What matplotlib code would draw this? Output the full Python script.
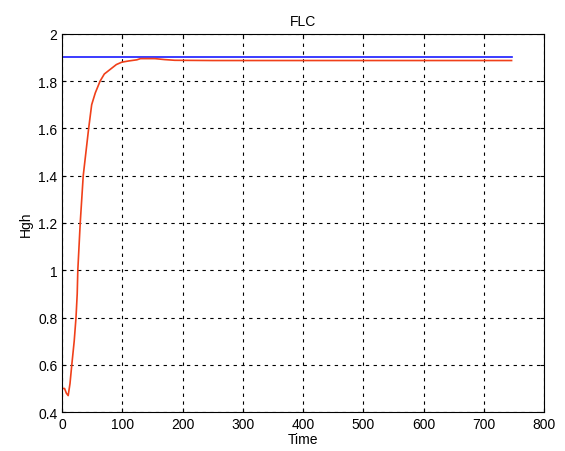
import matplotlib.pyplot as plt

plt.rcParams['font.family'] = ['Liberation Sans', 'DejaVu Sans']

# Valores
tempo = [0, 4, 7, 10, 13, 16, 20, 23, 25, 26, 30, 35, 44, 49, 55, 63, 70, 80, 90, 99,
         110, 124, 130, 154, 170, 187, 250, 400, 600, 746]
altura = [0.50, 0.50, 0.48, 0.47, 0.52, 0.60, 0.70, 0.80, 0.90, 1.00, 1.20, 1.40, 1.60, 1.70,
          1.75, 1.80, 1.83, 1.85, 1.87, 1.88, 1.885, 1.89, 1.895, 1.895, 1.891, 1.888,
          1.887, 1.887, 1.887, 1.887]
ref_tempo = [0, 746]
ref_altura = [1.9, 1.9]

fig = plt.figure(figsize=(5.65, 4.52), dpi=100)
ax = fig.add_axes([0.110, 0.086, 0.853, 0.837])

ax.plot(ref_tempo, ref_altura, color='#1a1aff', linewidth=1.2)
ax.plot(tempo, altura, color='#f0401a', linewidth=1.2)

ax.set_xlim(0, 800)
ax.set_ylim(0.4, 2)
ax.set_xticks(range(0, 801, 100))
ax.set_yticks([0.4, 0.6, 0.8, 1, 1.2, 1.4, 1.6, 1.8, 2])
ax.set_yticklabels(['0.4', '0.6', '0.8', '1', '1.2', '1.4', '1.6', '1.8', '2'])
ax.tick_params(direction='in', labelsize=10, top=True, right=True, length=3)

ax.grid(True, linestyle=(0, (3, 4)), color='black', linewidth=0.8)

ax.set_title('FLC', fontsize=10)
ax.set_xlabel('Time', fontsize=10, labelpad=1)
ax.set_ylabel('Hgh', fontsize=10)

plt.savefig('out.png', dpi=100)
